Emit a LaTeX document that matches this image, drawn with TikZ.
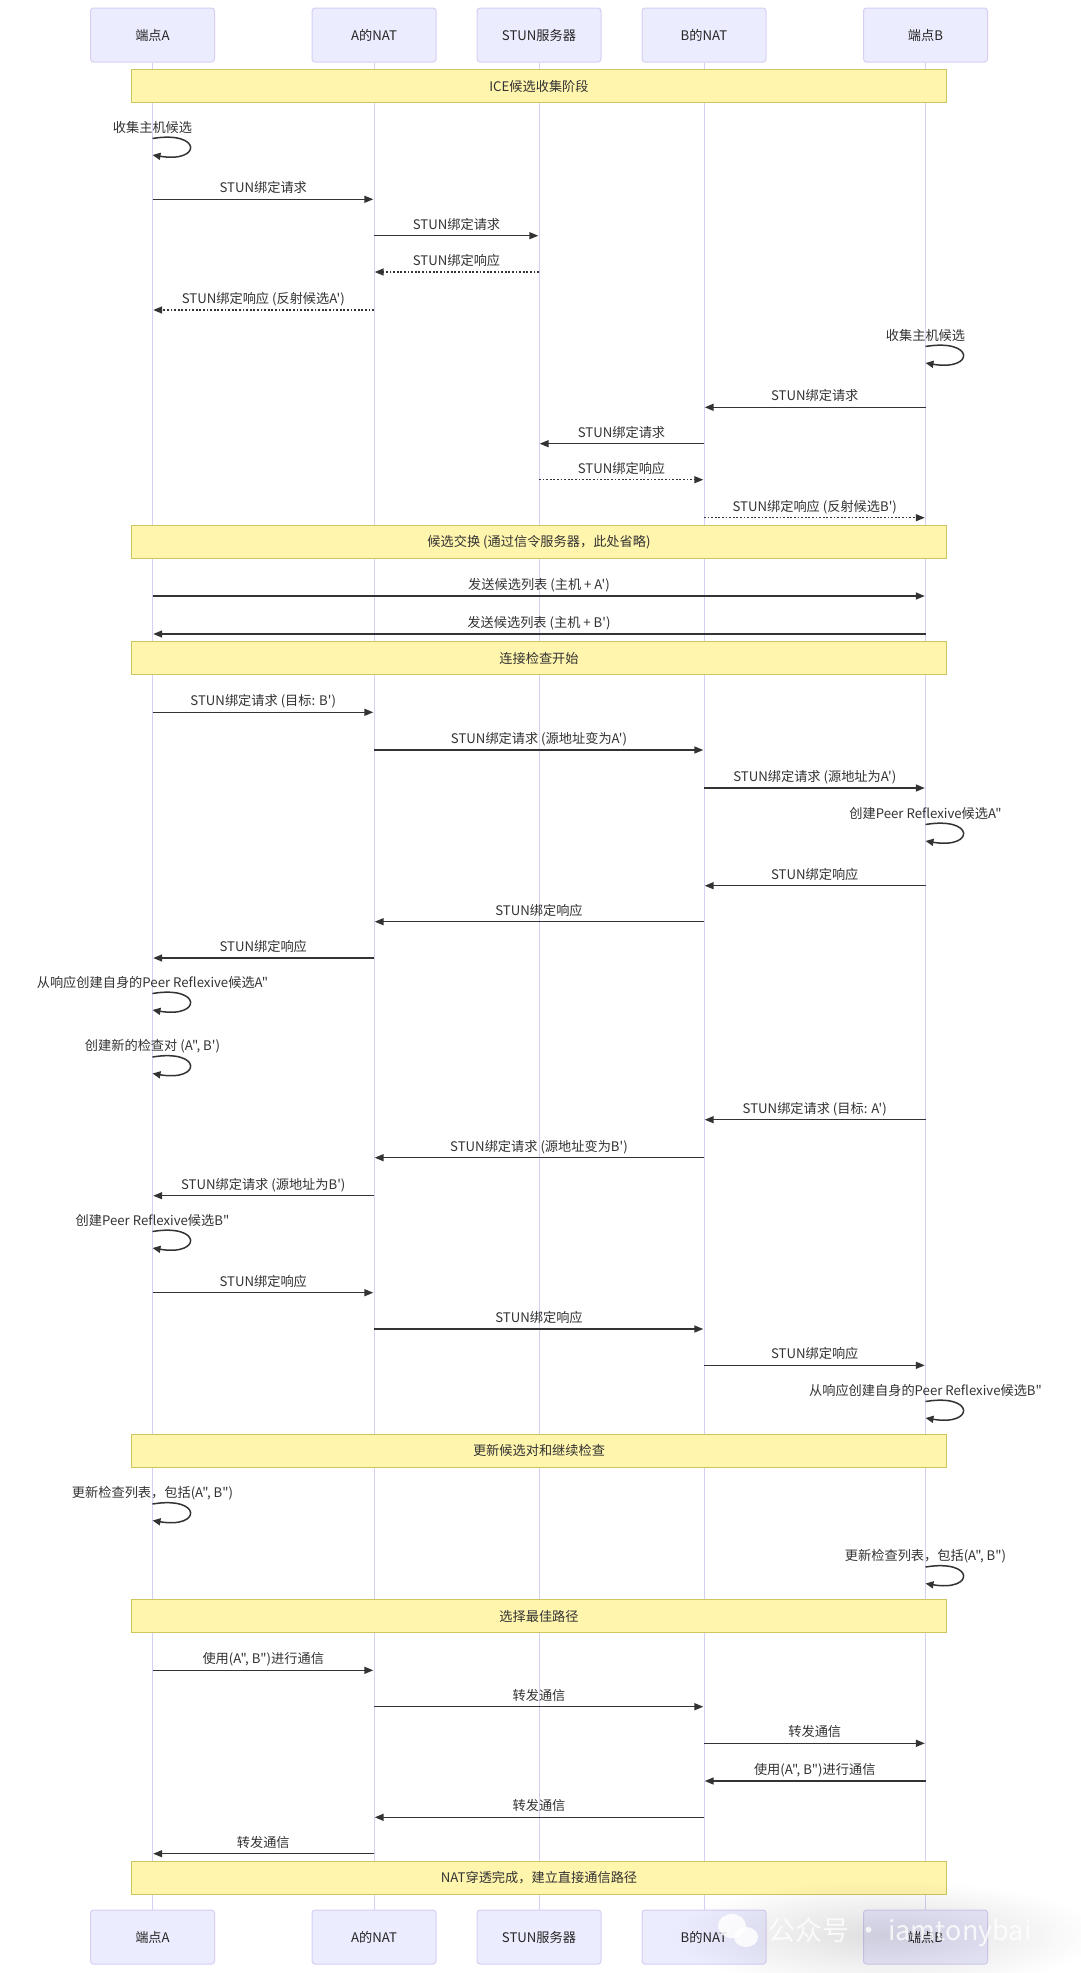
\documentclass[tikz,border=0pt]{standalone}
\usepackage{fontspec}
\newfontfamily\cjkf{Noto Sans CJK SC}
\usetikzlibrary{arrows.meta,fadings}
\definecolor{actfill}{HTML}{ECECFF}
\definecolor{actline}{HTML}{D8CEF3}
\definecolor{notefill}{HTML}{FFF5AD}
\definecolor{noteline}{HTML}{CCC660}
\definecolor{sig}{HTML}{333333}
\tikzfading[name=softblob, inner color=transparent!0, outer color=transparent!100]
\newcounter{mc}
\newcommand\Msg[5][msgline]{\stepcounter{mc}\draw[#1] (#2 |- 0,#4) -- (#3 |- 0,#4) node[lbl, pos=0.5, anchor=base, yshift=6.5pt] (m\themc) {#5};}
\newcommand\Self[3]{\stepcounter{mc}\coordinate (s\themc) at (#1 |- 0,#2);
  \node[lbl, anchor=base] (m\themc) at ([yshift=6.5pt]s\themc) {#3};
  \draw[loopline] (s\themc) .. controls +(49.5,-8.25) and +(49.5,8.25) .. +(0,16.5);}
\begin{document}
\begin{tikzpicture}[x=1pt,y=-1pt,
  actor/.style={draw=actline, fill=actfill, line width=1pt, rounded corners=3pt, minimum width=124pt, minimum height=54pt, inner sep=0pt, font=\cjkf\fontsize{13.2}{16}\selectfont, text=black!85},
  note/.style={draw=noteline, fill=notefill, line width=1pt, minimum width=815pt, minimum height=33pt, inner sep=0pt, font=\cjkf\fontsize{13.2}{16}\selectfont, text=sig},
  lbl/.style={font=\cjkf\fontsize{13.2}{16}\selectfont, text=sig, inner sep=0pt},
  lifeline/.style={draw=actline, line width=1pt},
  msgline/.style={draw=sig, line width=1.5pt, -{Triangle[length=9pt,width=7pt]}, shorten >=0.7pt},
  msgdot/.style={msgline, dash pattern=on 1.8pt off 1.8pt},
  loopline/.style={draw=sig, line width=1.5pt, -{Triangle[length=8pt,width=7pt]}}]
\useasboundingbox (0,0) rectangle (1080,1973);
\fill[white] (0,0) rectangle (1080,1973);
% actors
\node[actor] (At) at (152.5,35) {端点A};
\node[actor] (ANt) at (374,35) {A的NAT};
\node[actor] (St) at (539,35) {STUN服务器};
\node[actor] (BNt) at (704,35) {B的NAT};
\node[actor] (Bt) at (925.5,35) {端点B};
\node[actor] (Ab) at (152.5,1937) {端点A};
\node[actor] (ANb) at (374,1937) {A的NAT};
\node[actor] (Sb) at (539,1937) {STUN服务器};
\node[actor] (BNb) at (704,1937) {B的NAT};
\node[actor] (Bb) at (925.5,1937) {端点B};
\foreach \t/\b in {At/Ab,ANt/ANb,St/Sb,BNt/BNb,Bt/Bb}{\draw[lifeline] (\t.south) -- (\b.north);}
% notes
\node[note] (n1) at (St |- 0,86) {ICE候选收集阶段};
\node[note] (n2) at (St |- 0,542.2) {候选交换 (通过信令服务器，此处省略)};
\node[note] (n3) at (St |- 0,658.2) {连接检查开始};
\node[note] (n4) at (St |- 0,1450.5) {更新候选对和继续检查};
\node[note] (n5) at (St |- 0,1616.3) {选择最佳路径};
\node[note] (n6) at (St |- 0,1878) {NAT穿透完成，建立直接通信路径};
% messages
\Self{At}{138.5}{收集主机候选}
\Msg{At}{ANt}{199.3}{STUN绑定请求}
\Msg{ANt}{St}{235.7}{STUN绑定请求}
\Msg[msgdot]{St}{ANt}{272}{STUN绑定响应}
\Msg[msgdot]{ANt}{At}{310}{STUN绑定响应 (反射候选A')}
\Self{Bt}{346.5}{收集主机候选}
\Msg{Bt}{BNt}{407.3}{STUN绑定请求}
\Msg{BNt}{St}{443.7}{STUN绑定请求}
\Msg[msgdot]{St}{BNt}{479.7}{STUN绑定响应}
\Msg[msgdot]{BNt}{Bt}{517.7}{STUN绑定响应 (反射候选B')}
\Msg{At}{Bt}{596}{发送候选列表 (主机 + A')}
\Msg{Bt}{At}{634}{发送候选列表 (主机 + B')}
\Msg{At}{ANt}{712.3}{STUN绑定请求 (目标: B')}
\Msg{ANt}{BNt}{750}{STUN绑定请求 (源地址变为A')}
\Msg{BNt}{Bt}{788}{STUN绑定请求 (源地址为A')}
\Self{Bt}{824.5}{创建Peer Reflexive候选A"}
\Msg{Bt}{BNt}{885.7}{STUN绑定响应}
\Msg{BNt}{ANt}{921.7}{STUN绑定响应}
\Msg{ANt}{At}{958}{STUN绑定响应}
\Self{At}{993.5}{从响应创建自身的Peer Reflexive候选A"}
\Self{At}{1057}{创建新的检查对 (A", B')}
\Msg{Bt}{BNt}{1119.7}{STUN绑定请求 (目标: A')}
\Msg{BNt}{ANt}{1157.7}{STUN绑定请求 (源地址变为B')}
\Msg{ANt}{At}{1195.7}{STUN绑定请求 (源地址为B')}
\Self{At}{1231.5}{创建Peer Reflexive候选B"}
\Msg{At}{ANt}{1292.7}{STUN绑定响应}
\Msg{ANt}{BNt}{1329}{STUN绑定响应}
\Msg{BNt}{Bt}{1365.3}{STUN绑定响应}
\Self{Bt}{1401.5}{从响应创建自身的Peer Reflexive候选B"}
\Self{At}{1504}{更新检查列表，包括(A", B")}
\Self{Bt}{1567}{更新检查列表，包括(A", B")}
\Msg{At}{ANt}{1670.3}{使用(A", B")进行通信}
\Msg{ANt}{BNt}{1706.7}{转发通信}
\Msg{BNt}{Bt}{1743.3}{转发通信}
\Msg{Bt}{BNt}{1781}{使用(A", B")进行通信}
\Msg{BNt}{ANt}{1817.3}{转发通信}
\Msg{ANt}{At}{1853.7}{转发通信}
% watermark
\fill[black, opacity=0.13, path fading=softblob] (885,1935) ellipse (215pt and 55pt);
\begin{scope}[white, opacity=0.85]
\fill (732,1926) ellipse (14pt and 12pt);
\fill (746,1937) ellipse (12pt and 10pt);
\end{scope}
\node[font=\cjkf\fontsize{27}{30}\selectfont, text=white, opacity=0.8, anchor=west, inner sep=0pt] (wm) at (768,1932) {公众号 · iamtonybai};
\end{tikzpicture}
\end{document}
